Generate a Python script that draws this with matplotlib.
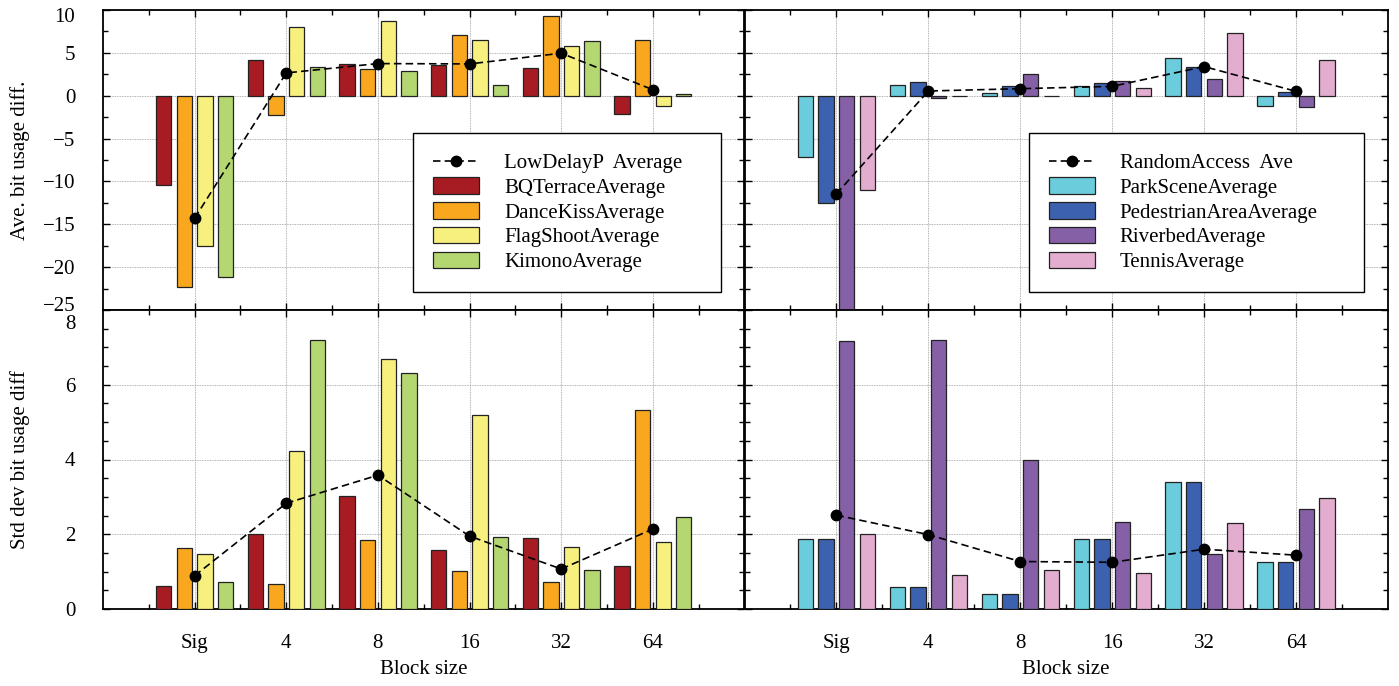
import matplotlib
matplotlib.use("Agg")
import matplotlib.pyplot as plt
import matplotlib.transforms as mtransforms
import numpy as np
from matplotlib.ticker import MultipleLocator, FixedLocator

plt.rcParams['font.family'] = ['Liberation Serif', 'DejaVu Serif']
FS = 15
plt.rcParams['font.size'] = FS

categories = ["Sig", "4", "8", "16", "32", "64"]

# Low delay P (left) - average bit usage diff
ld_avg_line = [-14.3, 2.66, 3.75, 3.71, 4.96, 0.70]
bqterrace_avg = [-10.39, 4.14, 3.75, 3.63, 3.20, -2.11]
dancekiss_avg = [-22.35, -2.23, 3.16, 7.11, 9.30, 6.45]
flagshoot_avg = [-17.54, 8.05, 8.75, 6.45, 5.78, -1.21]
kimono_avg = [-21.17, 3.36, 2.89, 1.29, 6.41, 0.23]

# Random access (right) - average bit usage diff
ra_avg_line = [-11.45, 0.55, 0.82, 1.09, 3.40, 0.51]
parkscene_avg = [-7.11, 1.29, 0.35, 1.17, 4.37, -1.17]
pedestrian_avg = [-12.54, 1.56, 1.17, 1.52, 3.40, 0.47]
riverbed_avg = [-26.0, -0.23, 2.54, 1.72, 1.91, -1.29]
tennis_avg = [-10.98, -0.05, -0.05, 0.94, 7.34, 4.22]

# Low delay P (left) - std dev bit usage diff
ld_std_line = [0.89, 2.83, 3.58, 1.95, 1.07, 2.14]
bqterrace_std = [0.61, 2.02, 3.03, 1.59, 1.89, 1.14]
dancekiss_std = [1.64, 0.66, 1.85, 1.01, 0.71, 5.33]
flagshoot_std = [1.48, 4.23, 6.68, 5.18, 1.65, 1.78]
kimono_std = [0.71, 7.21, 6.31, 1.93, 1.04, 2.45]

# Random access (right) - std dev bit usage diff
ra_std_line = [2.51, 1.99, 1.27, 1.25, 1.60, 1.44]
parkscene_std = [1.88, 0.58, 0.40, 1.88, 3.40, 1.25]
pedestrian_std = [1.88, 0.58, 0.40, 1.88, 3.40, 1.25]
riverbed_std = [7.16, 7.20, 3.99, 2.32, 1.48, 2.67]
tennis_std = [2.02, 0.92, 1.05, 0.95, 2.29, 2.96]

left_names = ["BQTerraceAverage", "DanceKissAverage", "FlagShootAverage", "KimonoAverage"]
right_names = ["ParkSceneAverage", "PedestrianAreaAverage", "RiverbedAverage", "TennisAverage"]
left_colors = ["#A61C22", "#F8A71E", "#F7F07F", "#B5D772"]
right_colors = ["#6BCDDC", "#3C61AF", "#8660A7", "#E3ADCF"]

W, H = 1399, 686
fig = plt.figure(figsize=(W / 100, H / 100), dpi=100)

def ax_at(x0, y0, x1, y1):
    return fig.add_axes([x0 / W, 1 - y1 / H, (x1 - x0) / W, (y1 - y0) / H])

ax_tl = ax_at(103, 10, 744.5, 310)
ax_tr = ax_at(744.5, 10, 1388, 310)
ax_bl = ax_at(103, 310, 744.5, 609)
ax_br = ax_at(744.5, 310, 1388, 609)

xpos = np.arange(1, len(categories) + 1)
offsets = [-0.3375, -0.1125, 0.1125, 0.3375]
bw = 0.167

def draw(ax, series, names, colors, line, line_label, ylim, major, minor, legend, bbox):
    for s, n, c, o in zip(series, names, colors, offsets):
        ax.bar(xpos + o, s, width=bw, color=c, edgecolor="#222222", linewidth=0.9,
               label=n, zorder=3)
    ax.plot(xpos, line, color="black", linestyle=(0, (4.5, 2.5)), linewidth=1.2,
            marker="o", markersize=7.5, label=line_label, zorder=4)
    ax.set_xlim(0, 7)
    ax.set_ylim(*ylim)
    ax.xaxis.set_major_locator(FixedLocator(xpos))
    ax.xaxis.set_minor_locator(FixedLocator(np.arange(0.5, 7, 1.0)))
    ax.yaxis.set_major_locator(MultipleLocator(major))
    ax.yaxis.set_minor_locator(MultipleLocator(minor))
    ax.tick_params(which="both", direction="in", top=True, right=True, width=1.0)
    ax.tick_params(which="major", length=5)
    ax.tick_params(which="minor", length=3.5)
    ax.grid(True, which="major", linestyle=(0, (1, 1)), color="#9a9a9a", linewidth=0.6, zorder=0)
    ax.set_axisbelow(True)
    for sp in ax.spines.values():
        sp.set_linewidth(1.3)
    if legend:
        h, l = ax.get_legend_handles_labels()
        leg = ax.legend(h, l, loc="upper left", bbox_to_anchor=bbox, mode="expand",
                        borderaxespad=0, frameon=True, fancybox=False, framealpha=1,
                        edgecolor="black", handlelength=2.2, handleheight=0.85,
                        handletextpad=1.2, labelspacing=0.2, borderpad=0.95,
                        fontsize=FS)
        leg.get_frame().set_linewidth(1.0)

draw(ax_tl, [bqterrace_avg, dancekiss_avg, flagshoot_avg, kimono_avg], left_names, left_colors,
     ld_avg_line, "LowDelayP  Average", (-25, 10), 5, 2.5, True, (0.484, 0.0, 0.479, 0.59))
draw(ax_tr, [parkscene_avg, pedestrian_avg, riverbed_avg, tennis_avg], right_names, right_colors,
     ra_avg_line, "RandomAccess  Ave", (-25, 10), 5, 2.5, True, (0.442, 0.0, 0.520, 0.59))
draw(ax_bl, [bqterrace_std, dancekiss_std, flagshoot_std, kimono_std], left_names, left_colors,
     ld_std_line, "LowDelayP  Average", (0, 8), 2, 0.5, False, None)
draw(ax_br, [parkscene_std, pedestrian_std, riverbed_std, tennis_std], right_names, right_colors,
     ra_std_line, "RandomAccess  Ave", (0, 8), 2, 0.5, False, None)

for ax in (ax_tl, ax_tr):
    ax.tick_params(labelbottom=False)
for ax in (ax_tr, ax_br):
    ax.tick_params(labelleft=False)
for ax in (ax_bl, ax_br):
    ax.set_xticklabels(categories)
    ax.tick_params(axis="x", which="major", pad=18)
    ax.set_xlabel("Block size", labelpad=5)

ax_tl.tick_params(axis="y", pad=20)
ax_bl.tick_params(axis="y", pad=20)

# Extreme tick labels pulled inside the axis span
fig.canvas.draw()
def shift(lbl, dy_px):
    lbl.set_transform(lbl.get_transform() + mtransforms.Affine2D().translate(0, dy_px))

for lbl in ax_tl.get_yticklabels():
    t = lbl.get_text().replace("\u2212", "-")
    if t == "10":
        lbl.set_verticalalignment("top")
        shift(lbl, 2)
    elif t == "-25":
        shift(lbl, 6)
for lbl in ax_bl.get_yticklabels():
    t = lbl.get_text()
    if t == "8":
        lbl.set_verticalalignment("top")
        shift(lbl, -5)

fig.text(20 / W, 1 - 160 / H, "Ave. bit usage diff.", rotation=90, ha="center", va="center",
         fontsize=FS)
fig.text(20 / W, 1 - 460 / H, "Std dev bit usage diff", rotation=90, ha="center", va="center",
         fontsize=FS)

fig.savefig("out.png", dpi=100)
